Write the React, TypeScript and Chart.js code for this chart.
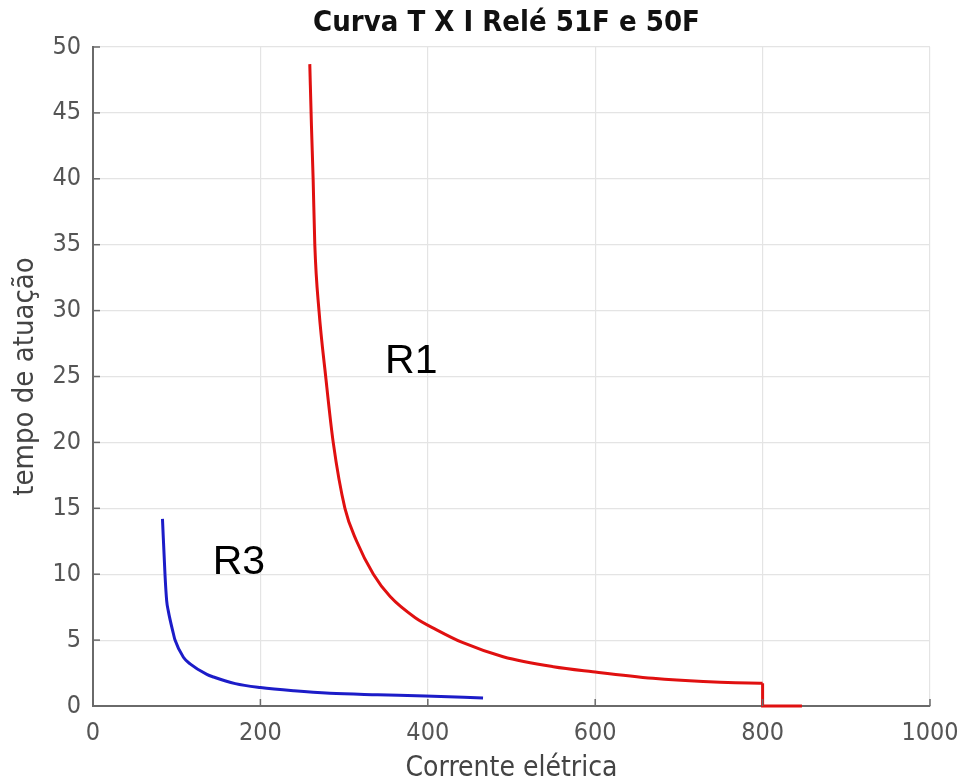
import React, { useEffect, useRef } from "react";
import { Chart, registerables } from "chart.js";

Chart.register(...registerables);

// R1 relay curve (relé 51F) — current (A) and time (s)
const r1Current = [259, 261, 263, 265, 270, 278, 287, 301, 315, 335, 355, 385, 410, 442, 490, 550, 597, 669, 729, 797, 800];
const r1Time = [48.7, 44, 40, 35, 30, 25, 20, 15, 12.5, 10, 8.3, 6.7, 5.8, 4.8, 3.74, 2.98, 2.6, 2.1, 1.85, 1.72, 1.72];
// R1 instantaneous step (relé 50F)
const r1StepCurrent = [800, 800, 847];
const r1StepTime = [1.72, 0, 0];

// R3 relay curve
const r3Current = [83, 86, 88, 90, 96, 98, 108, 116, 136, 144, 170, 200, 240, 283, 340, 397, 466];
const r3Time = [14.2, 10, 8, 7.2, 5.5, 5.0, 3.7, 3.2, 2.4, 2.2, 1.7, 1.4, 1.15, 0.96, 0.85, 0.76, 0.6];

const xTicks = [0, 200, 400, 600, 800, 1000];
const yTicks = [0, 5, 10, 15, 20, 25, 30, 35, 40, 45, 50];

const titleText = "Curva T X I Relé 51F e 50F";
const xLabel = "Corrente elétrica";
const yLabel = "tempo de atuação";

const curveLabels = ["R1", "R3"];
const curveLabelX = [349, 143];
const curveLabelY = [26.1, 10.9];

const FONT = "'DejaVu Sans Condensed', 'DejaVu Sans', sans-serif";

const toPoints = (xs: number[], ys: number[]) => xs.map((x, i) => ({ x, y: ys[i] }));

export default function App() {
  const ref = useRef<HTMLCanvasElement | null>(null);

  useEffect(() => {
    document.body.style.margin = "0";
    const canvas = ref.current;
    if (!canvas) return;

    const extras = {
      id: "extras",
      afterDraw(chart: any) {
        const ctx = chart.ctx;
        const xs = chart.scales.x;
        const ys = chart.scales.y;
        const area = chart.chartArea;
        ctx.save();
        // inward ticks
        ctx.strokeStyle = "#6a6a6a";
        ctx.lineWidth = 1.5;
        xTicks.forEach((v) => {
          const px = xs.getPixelForValue(v);
          ctx.beginPath();
          ctx.moveTo(px, area.bottom);
          ctx.lineTo(px, area.bottom - 7);
          ctx.stroke();
        });
        yTicks.forEach((v) => {
          const py = ys.getPixelForValue(v);
          ctx.beginPath();
          ctx.moveTo(area.left, py);
          ctx.lineTo(area.left + 7, py);
          ctx.stroke();
        });
        // title
        ctx.fillStyle = "#111";
        ctx.font = "bold 29px " + FONT;
        ctx.textAlign = "center";
        ctx.textBaseline = "middle";
        ctx.fillText(titleText, (area.left + area.right) / 2 - 5, 23);
        // curve labels
        ctx.font = "41px 'Liberation Sans', Arial, sans-serif";
        ctx.textAlign = "left";
        ctx.fillStyle = "#000";
        curveLabels.forEach((t, i) => {
          ctx.fillText(t, xs.getPixelForValue(curveLabelX[i]), ys.getPixelForValue(curveLabelY[i]));
        });
        ctx.restore();
      },
    };

    const lineDs = (label: string, xs: number[], ys: number[], color: string, smooth: boolean) => ({
      label,
      data: toPoints(xs, ys),
      showLine: true,
      borderColor: color,
      borderWidth: 3,
      pointRadius: 0,
      cubicInterpolationMode: smooth ? "monotone" : "default",
      tension: 0,
      clip: 4,
    });

    const chart = new Chart(canvas, {
      type: "scatter",
      data: {
        datasets: [
          lineDs("R1", r1Current, r1Time, "#e01010", true),
          lineDs("R1 50F", r1StepCurrent, r1StepTime, "#e01010", false),
          lineDs("R3", r3Current, r3Time, "#1c1cc8", true),
        ] as any,
      },
      options: {
        responsive: false,
        animation: false,
        layout: { padding: { top: 47, right: 35, left: 0, bottom: 0 } },
        plugins: {
          legend: { display: false },
          title: { display: false },
          tooltip: { enabled: false },
        },
        scales: {
          x: {
            type: "linear",
            min: 0,
            max: 1000,
            afterBuildTicks: (s: any) => {
              s.ticks = xTicks.map((v) => ({ value: v }));
            },
            afterFit: (s: any) => {
              s.height = 76;
              s.paddingLeft = 0;
              s.paddingRight = 0;
            },
            grid: { color: "#e4e4e4", lineWidth: 1.2, drawTicks: false },
            border: { color: "#6a6a6a", width: 2 },
            ticks: {
              color: "#555",
              font: { family: FONT, size: 25 },
              padding: 12,
              callback: (v: any) => String(v),
            },
            title: {
              display: true,
              text: xLabel,
              color: "#444",
              font: { family: FONT, size: 28 },
              padding: { top: 6, bottom: -4 },
            },
          },
          y: {
            type: "linear",
            min: 0,
            max: 50,
            afterBuildTicks: (s: any) => {
              s.ticks = yTicks.map((v) => ({ value: v }));
            },
            afterFit: (s: any) => {
              s.width = 93;
            },
            grid: { color: "#e4e4e4", lineWidth: 1.2, drawTicks: false },
            border: { color: "#6a6a6a", width: 2 },
            ticks: {
              color: "#555",
              font: { family: FONT, size: 25 },
              padding: 12,
              callback: (v: any) => String(v),
            },
            title: {
              display: true,
              text: yLabel,
              color: "#444",
              font: { family: FONT, size: 29 },
              padding: { top: 8, bottom: 0 },
            },
          },
        },
      },
      plugins: [extras],
    });

    return () => chart.destroy();
  }, []);

  return (
    <div style={{ width: 965, height: 782, background: "#fff" }}>
      <canvas ref={ref} width={965} height={782} />
    </div>
  );
}
